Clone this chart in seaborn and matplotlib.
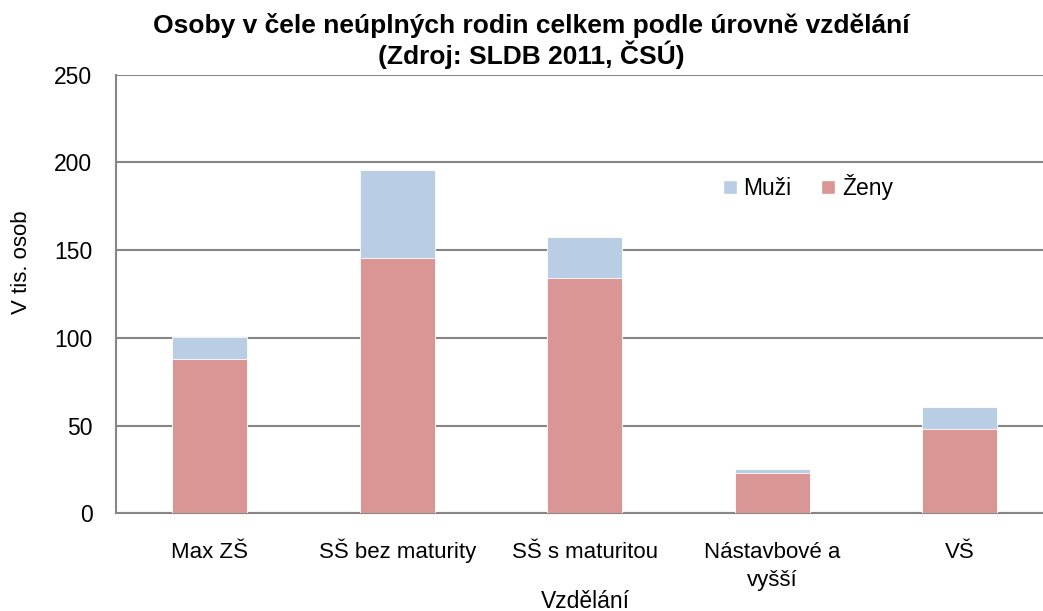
import numpy as np
import pandas as pd
import seaborn as sns
import matplotlib.pyplot as plt
from matplotlib.patches import Patch

# hodnoty v tis. osob
kategorie = ["Max ZŠ", "SŠ bez maturity", "SŠ s maturitou", "Nástavbové a\nvyšší", "VŠ"]
zeny = [87.9, 145.5, 134.3, 22.8, 48.0]
muzi = [12.4, 50.2, 23.0, 2.5, 12.8]

BARVA_MUZI = "#B9CDE5"
BARVA_ZENY = "#D99694"
SEDA = "#868686"

df = pd.DataFrame({"kategorie": kategorie, "zeny": zeny, "muzi": muzi})
df["celkem"] = df["zeny"] + df["muzi"]

sns.set_theme(style="white")
plt.rcParams["font.family"] = ["Liberation Sans", "DejaVu Sans"]
plt.rcParams["text.color"] = "black"
plt.rcParams["axes.labelcolor"] = "black"

W, H = 1043, 611
AX_H = 438.6
fig = plt.figure(figsize=(W / 100, H / 100), dpi=100)
ax = fig.add_axes([116 / W, 1 - 513.3 / H, 937.5 / W, AX_H / H])

# Muži navrch: nejdřív celkový součet, přes něj ženy
sns.barplot(data=df, x="kategorie", y="celkem", color=BARVA_MUZI, width=0.4,
            saturation=1, edgecolor="white", linewidth=0.6, ax=ax, zorder=3)
sns.barplot(data=df, x="kategorie", y="zeny", color=BARVA_ZENY, width=0.4,
            saturation=1, edgecolor="white", linewidth=0.6, ax=ax, zorder=3)

ax.set_xlim(-0.5, len(kategorie) - 0.5)
ax.set_ylim(0, 250)
ax.set_yticks(np.arange(0, 251, 50))
ax.yaxis.grid(True, color=SEDA, linewidth=1.5, zorder=0)
ax.set_axisbelow(True)

for side in ["top", "right"]:
    ax.spines[side].set_visible(False)
for side in ["left", "bottom"]:
    ax.spines[side].set_color(SEDA)
    ax.spines[side].set_linewidth(1.5)

ax.set_xticks(np.arange(-0.5, len(kategorie), 1.0), minor=True)
ax.tick_params(axis="x", which="major", length=0, pad=32, labelsize=16, labelcolor="black")
ax.tick_params(axis="x", which="minor", length=6, width=1.2, color=SEDA, direction="out")
ax.tick_params(axis="y", length=6, width=1.2, color=SEDA, direction="out",
               labelsize=16.5, pad=11, labelcolor="black")
for lbl in ax.get_xticklabels():
    lbl.set_verticalalignment("baseline")
    if "\n" in lbl.get_text():
        # baseline víceřádkového popisku je u posledního řádku -> posunout dolů
        lbl.set_linespacing(1.45)
        lbl.set_y(-28 / AX_H)

ax.set_xlabel("")
ax.set_ylabel("")
fig.text(585 / W, 1 - 601 / H, "Vzdělání", fontsize=16.5, ha="center", va="center")
fig.text(22 / W, 1 - 262 / H, "V tis. osob", fontsize=16, ha="center", va="center",
         rotation=90)

fig.text(531 / W, 1 - 41 / H,
         "Osoby v čele neúplných rodin celkem podle úrovně vzdělání\n(Zdroj: SLDB 2011, ČSÚ)",
         ha="center", va="center", fontsize=19, fontweight="bold", linespacing=1.1)

handles = [Patch(facecolor=BARVA_MUZI, label="Muži"), Patch(facecolor=BARVA_ZENY, label="Ženy")]
ax.legend(handles=handles, loc="center", bbox_to_anchor=(808 / W, 1 - 187 / H),
          bbox_transform=fig.transFigure, ncol=2, frameon=False, fontsize=16.5,
          handlelength=0.6, handleheight=0.6, handletextpad=0.3, columnspacing=1.3)

fig.savefig("out.png", dpi=100)
